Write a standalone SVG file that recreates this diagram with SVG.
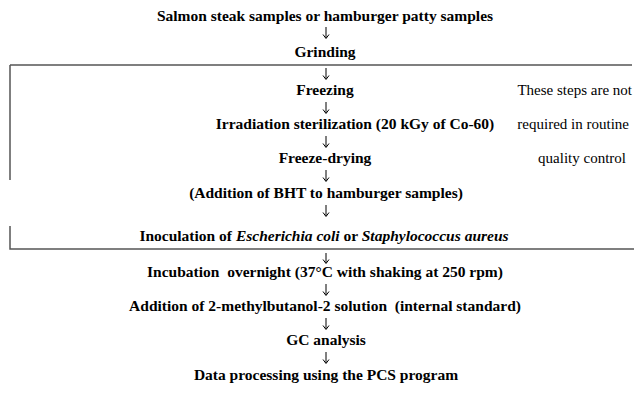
<svg xmlns="http://www.w3.org/2000/svg" width="635" height="396" viewBox="0 0 635 396">
<style>
.t{font-family:"Liberation Serif","Times New Roman",serif;font-size:15.5px;font-weight:bold;fill:#000;text-anchor:middle}
.n{font-family:"Liberation Serif","Times New Roman",serif;font-size:15px;fill:#000;text-anchor:end}
.a{stroke:#000;stroke-width:1;fill:none}
.b{stroke:#555;stroke-width:1.5;fill:none}
</style>
<g id="box">
<path class="b" d="M10 65 H632 M10 65 V180 M10 226 V249 H634"/>
</g>
<g id="connectors">
<path class="a" d="M326 27 V38 M323 34.5 L326 38.5 L329 34.5"/>
<path class="a" d="M326 68 V79 M323 75.5 L326 79.5 L329 75.5"/>
<path class="a" d="M326 102 V113 M323 109.5 L326 113.5 L329 109.5"/>
<path class="a" d="M326 136 V147 M323 143.5 L326 147.5 L329 143.5"/>
<path class="a" d="M326 170 V181 M323 177.5 L326 181.5 L329 177.5"/>
<path class="a" d="M326 205 V216 M323 212.5 L326 216.5 L329 212.5"/>
<path class="a" d="M326 253 V263 M323 259.5 L326 263.5 L329 259.5"/>
<path class="a" d="M326 284 V295 M323 291.5 L326 295.5 L329 291.5"/>
<path class="a" d="M326 318 V329 M323 325.5 L326 329.5 L329 325.5"/>
<path class="a" d="M326 352 V363 M323 359.5 L326 363.5 L329 359.5"/>
</g>
<g id="n1"><text class="t" x="325" y="21">Salmon steak samples or hamburger patty samples</text></g>
<g id="n2"><text class="t" x="325" y="57">Grinding</text></g>
<g id="n3"><text class="t" x="325" y="95">Freezing</text></g>
<g id="n4"><text class="t" x="355" y="129">Irradiation sterilization (20 kGy of Co-60)</text></g>
<g id="n5"><text class="t" x="325" y="163">Freeze-drying</text></g>
<g id="n6"><text class="t" x="326" y="198">(Addition of BHT to hamburger samples)</text></g>
<g id="n7"><text class="t" x="324" y="241">Inoculation of <tspan font-style="italic">Escherichia coli</tspan> or <tspan font-style="italic">Staphylococcus aureus</tspan></text></g>
<g id="n8"><text class="t" x="325" y="277" xml:space="preserve">Incubation  overnight (37°C with shaking at 250 rpm)</text></g>
<g id="n9"><text class="t" x="325" y="311" xml:space="preserve">Addition of 2-methylbutanol-2 solution  (internal standard)</text></g>
<g id="n10"><text class="t" x="326" y="345">GC analysis</text></g>
<g id="n11"><text class="t" x="326" y="380">Data processing using the PCS program</text></g>
<g id="note">
<text class="n" x="632" y="95">These steps are not</text>
<text class="n" x="629" y="129">required in routine</text>
<text class="n" x="626" y="163">quality control</text>
</g>
</svg>
